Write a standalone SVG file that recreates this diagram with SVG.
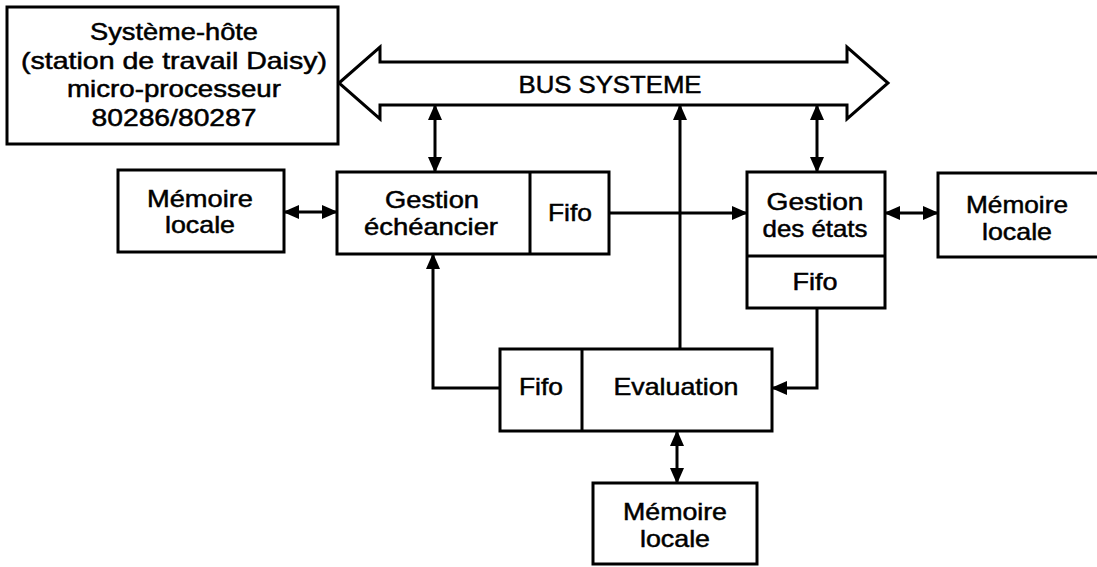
<svg xmlns="http://www.w3.org/2000/svg" width="1097" height="567" viewBox="0 0 1097 567">
<style>
.box{fill:#fff;stroke:#000;stroke-width:3}
.ln{fill:none;stroke:#000;stroke-width:3}
.t{font-family:"Liberation Sans",Arial,Helvetica,sans-serif;font-size:24px;fill:#000;text-anchor:middle;stroke:#000;stroke-width:0.5}
.bus{fill:#fff;stroke:#000;stroke-width:3;stroke-linejoin:miter}
</style>
<defs>
<marker id="ah" markerUnits="userSpaceOnUse" markerWidth="16" markerHeight="14" viewBox="0 0 16 14" refX="14" refY="7" orient="auto-start-reverse">
<path d="M0,0 L16,7 L0,14 z" fill="#000"/>
</marker>
</defs>
<rect width="1097" height="567" fill="#fff"/>
<g id="host">
<rect class="box" x="7" y="7" width="331" height="137"/>
<text class="t" x="174" y="40" textLength="168" lengthAdjust="spacingAndGlyphs">Système-hôte</text>
<text class="t" x="174" y="68.5" textLength="306" lengthAdjust="spacingAndGlyphs">(station de travail Daisy)</text>
<text class="t" x="174" y="97" textLength="214" lengthAdjust="spacingAndGlyphs">micro-processeur</text>
<text class="t" x="174" y="125.5" textLength="165" lengthAdjust="spacingAndGlyphs">80286/80287</text>
</g>
<g id="bus">
<polygon class="bus" points="339,83 380,47 380,62 847,62 847,47 888,83 847,119 847,105 380,105 380,119"/>
<text class="t" x="610" y="93" textLength="183" lengthAdjust="spacingAndGlyphs">BUS SYSTEME</text>
</g>
<g id="memoire-gauche">
<rect class="box" x="118" y="170" width="166" height="82"/>
<text class="t" x="200" y="207" textLength="106" lengthAdjust="spacingAndGlyphs">Mémoire</text>
<text class="t" x="200" y="233" textLength="70" lengthAdjust="spacingAndGlyphs">locale</text>
</g>
<g id="gestion-echeancier">
<rect class="box" x="337" y="172" width="272" height="82"/>
<line class="ln" x1="530" y1="172" x2="530" y2="254"/>
<text class="t" x="432" y="208" textLength="94" lengthAdjust="spacingAndGlyphs">Gestion</text>
<text class="t" x="431" y="235" textLength="134" lengthAdjust="spacingAndGlyphs">échéancier</text>
<text class="t" x="570" y="221" textLength="44" lengthAdjust="spacingAndGlyphs">Fifo</text>
</g>
<g id="gestion-etats">
<rect class="box" x="747" y="172" width="138" height="136"/>
<line class="ln" x1="747" y1="256" x2="885" y2="256"/>
<text class="t" x="815" y="210" textLength="97" lengthAdjust="spacingAndGlyphs">Gestion</text>
<text class="t" x="815" y="237" textLength="105" lengthAdjust="spacingAndGlyphs">des états</text>
<text class="t" x="815" y="290" textLength="45" lengthAdjust="spacingAndGlyphs">Fifo</text>
</g>
<g id="memoire-droite">
<rect class="box" x="938" y="173" width="170" height="84"/>
<text class="t" x="1017" y="213" textLength="102" lengthAdjust="spacingAndGlyphs">Mémoire</text>
<text class="t" x="1017" y="240" textLength="70" lengthAdjust="spacingAndGlyphs">locale</text>
</g>
<g id="evaluation">
<rect class="box" x="500" y="349" width="272" height="82"/>
<line class="ln" x1="582" y1="349" x2="582" y2="431"/>
<text class="t" x="541" y="395" textLength="44" lengthAdjust="spacingAndGlyphs">Fifo</text>
<text class="t" x="676" y="395" textLength="125" lengthAdjust="spacingAndGlyphs">Evaluation</text>
</g>
<g id="memoire-bas">
<rect class="box" x="593" y="483" width="164" height="81"/>
<text class="t" x="675" y="520" textLength="104" lengthAdjust="spacingAndGlyphs">Mémoire</text>
<text class="t" x="675" y="547" textLength="70" lengthAdjust="spacingAndGlyphs">locale</text>
</g>
<g id="connectors">
<line class="ln" x1="435" y1="106" x2="435" y2="171" marker-start="url(#ah)" marker-end="url(#ah)"/>
<line class="ln" x1="680" y1="348" x2="680" y2="106" marker-end="url(#ah)"/>
<line class="ln" x1="817" y1="106" x2="817" y2="171" marker-start="url(#ah)" marker-end="url(#ah)"/>
<line class="ln" x1="285" y1="212" x2="336" y2="212" marker-start="url(#ah)" marker-end="url(#ah)"/>
<line class="ln" x1="609" y1="213" x2="746" y2="213" marker-end="url(#ah)"/>
<line class="ln" x1="886" y1="213" x2="937" y2="213" marker-start="url(#ah)" marker-end="url(#ah)"/>
<polyline class="ln" points="817,308 817,388 773,388" marker-end="url(#ah)"/>
<polyline class="ln" points="500,388 433,388 433,255" marker-end="url(#ah)"/>
<line class="ln" x1="677" y1="432" x2="677" y2="482" marker-start="url(#ah)" marker-end="url(#ah)"/>
</g>
</svg>
